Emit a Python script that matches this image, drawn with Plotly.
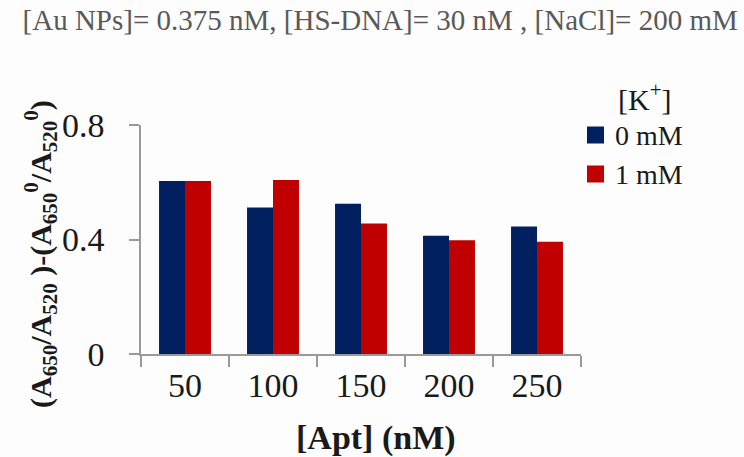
import plotly.graph_objects as go

categories = ["50", "100", "150", "200", "250"]
k0_values = [0.604, 0.512, 0.525, 0.413, 0.445]
k1_values = [0.604, 0.608, 0.456, 0.397, 0.392]
series_names = ["0 mM", "1 mM"]
series_colors = ["#002060", "#C00000"]
y_ticks = [0, 0.4, 0.8]
y_tick_text = ["0", "0.4", "0.8"]

FONT = "Liberation Serif"
AXIS_COLOR = "#9a9a9a"
TEXT = "#1a1a1a"

fig = go.Figure()
for vals, name, col in zip([k0_values, k1_values], series_names, series_colors):
    fig.add_trace(go.Bar(x=categories, y=vals, name=name,
                         marker=dict(color=col, line=dict(width=0))))

fig.update_layout(
    width=744, height=457,
    margin=dict(l=141, r=163, t=125, b=103),
    paper_bgcolor="#fdfdfd", plot_bgcolor="#fdfdfd",
    barmode="group", bargap=0.41, bargroupgap=0,
    font=dict(family=FONT, size=34, color=TEXT),
    title=dict(text="[Au NPs]= 0.375 nM, [HS-DNA]= 30 nM , [NaCl]= 200 mM",
               x=0.511, xanchor="center", y=0.956, yanchor="middle",
               font=dict(family=FONT, size=29, color="#595959")),
    showlegend=False,
    xaxis=dict(showline=True, linecolor=AXIS_COLOR, linewidth=1.5,
               ticks="outside", tickson="boundaries", ticklen=11,
               tickcolor=AXIS_COLOR, tickwidth=1.5, showgrid=False,
               tickfont=dict(size=34, color=TEXT)),
    yaxis=dict(range=[0, 0.8], showline=True, linecolor=AXIS_COLOR, linewidth=1.5,
               ticks="outside", ticklen=10, tickcolor=AXIS_COLOR, tickwidth=1.5,
               tickvals=y_ticks, ticktext=y_tick_text, showgrid=False,
               zeroline=False, tickfont=dict(size=34, color=TEXT),
               ticklabelstandoff=18),
)

def xp(px):
    return (px - 141) / 440

def yp(py):
    return (354 - py) / 229

# legend drawn manually
legend_rows = [135, 174]
for name, col, cy in zip(series_names, series_colors, legend_rows):
    fig.add_shape(type="rect", xref="paper", yref="paper",
                  x0=xp(587), x1=xp(604), y0=yp(cy + 8.5), y1=yp(cy - 8.5),
                  fillcolor=col, line=dict(width=0))
    fig.add_annotation(text=name, xref="paper", yref="paper",
                       x=xp(613), y=yp(cy), xanchor="left", yanchor="middle",
                       showarrow=False, font=dict(family=FONT, size=28, color=TEXT))
fig.add_annotation(text="[K<sup>+</sup>]", xref="paper", yref="paper",
                   x=xp(645), y=yp(97), xanchor="center", yanchor="middle",
                   showarrow=False, font=dict(family=FONT, size=30, color=TEXT))

fig.add_annotation(text="<b>(A<sub>650</sub>/A<sub>520</sub> )-(A<sub>650</sub><sup>0</sup>/A<sub>520</sub><sup>0</sup>)</b>",
                   xref="paper", yref="paper", x=xp(40), y=yp(254),
                   textangle=-90, showarrow=False, xanchor="center", yanchor="middle",
                   font=dict(family=FONT, size=30, color=TEXT))
fig.add_annotation(text="<b>[Apt] (nM)</b>",
                   xref="paper", yref="paper", x=xp(376), y=yp(438),
                   showarrow=False, xanchor="center", yanchor="middle",
                   font=dict(family=FONT, size=34, color=TEXT))

fig.write_html("out.html")
